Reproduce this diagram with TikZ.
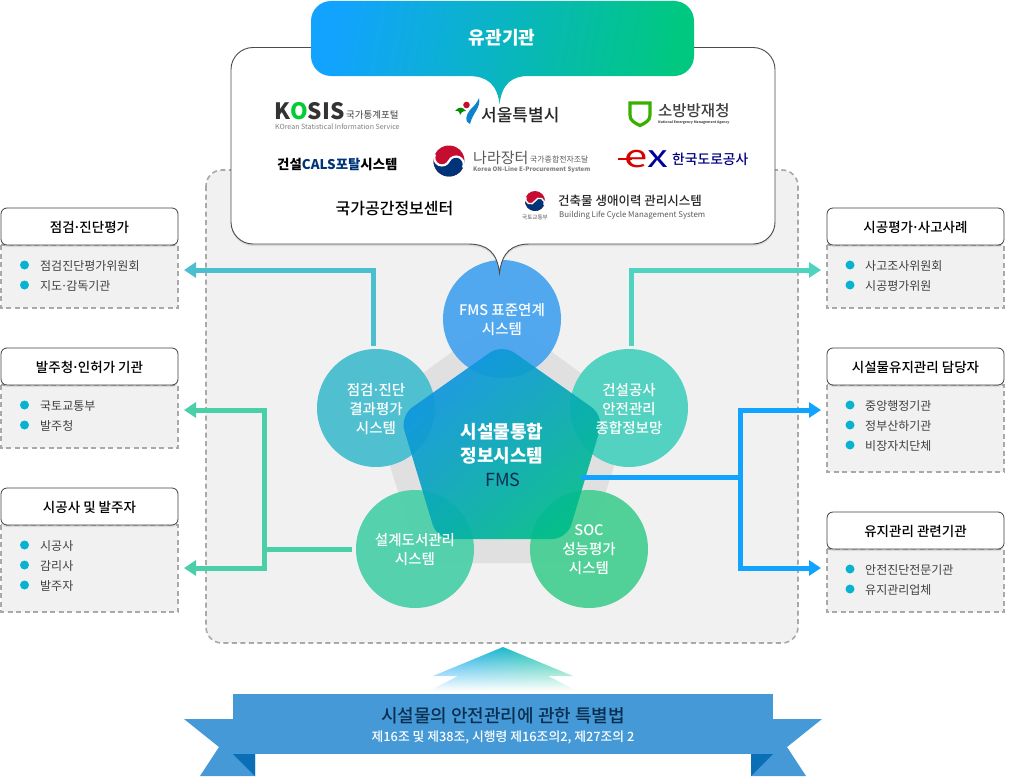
\documentclass[tikz,border=0pt]{standalone}
\usepackage{fontspec}
\setmainfont{Noto Sans CJK KR}
\newfontfamily\medfont{Noto Sans CJK KR Medium}
\usetikzlibrary{arrows.meta,shadows,fadings}
\definecolor{panelgray}{HTML}{F1F1F1}
\definecolor{dashgray}{HTML}{A9A9A9}
\definecolor{linkteal}{HTML}{4BBFD0}
\definecolor{linkmint}{HTML}{4FD2C0}
\definecolor{linkgreen}{HTML}{4BCFA8}
\definecolor{linkblue}{HTML}{12A3FF}
\definecolor{dotblue}{HTML}{07B3D0}
\definecolor{ribbon}{HTML}{4499D6}
\definecolor{ribbondark}{HTML}{0B6FB8}
\definecolor{navy}{HTML}{0B2E50}
\definecolor{kblue}{HTML}{003478}
\definecolor{kred}{HTML}{C60C30}
\newcommand{\fsz}[2]{\fontsize{#1}{#2}\selectfont}
\newcommand{\mdot}{\kern-.11em·\kern-.11em}
\newcommand{\taegeuk}[3]{%
	\begin{scope}[shift={(#1,#2)},x=#3pt,y=#3pt,rotate=-25]
		\fill[kred] (0,0) circle (1);
		\fill[kblue] (-1,0) arc[start angle=180,end angle=360,radius=1]
		arc[start angle=0,end angle=180,radius=.5]
		arc[start angle=0,end angle=-180,radius=.5] -- cycle;
		\draw[white,line width=.14*#3pt] (1,0) arc[start angle=0,end angle=180,radius=.5]
		arc[start angle=0,end angle=-180,radius=.5];
	\end{scope}}

\begin{document}
\begin{tikzpicture}
		[x=1pt,y=-1pt,
		bigpanel/.style={draw=dashgray,line width=1.6pt,dash pattern=on 5pt off 3.5pt,fill=panelgray,rounded corners=16pt},
		panel/.style={draw=dashgray,line width=1.6pt,dash pattern=on 5pt off 3.5pt,fill=panelgray},
		header/.style={draw=black!75,line width=.8pt,fill=white,rounded corners=6pt,minimum width=177pt,minimum height=37pt,inner sep=0pt,
			text height=12pt,text depth=1pt,drop shadow={shadow xshift=0pt,shadow yshift=-2pt,opacity=.18},font=\fsz{13.5}{16}\medfont,text=black},
		sys/.style={circle,minimum size=118pt,inner sep=0pt},
		systext/.style={inner sep=0pt,yshift=-1pt,align=center,text=white,font=\fsz{14.5}{19}\medfont},
		bullet/.style={circle,fill=dotblue,minimum size=9pt,inner sep=0pt},
		item/.style={anchor=west,inner sep=0pt,yshift=-1pt,font=\fsz{12}{14},text=black!75},
		link/.style={line width=5pt},
		linktip/.style={line width=5pt,-{Triangle[length=12pt,width=15pt]}},
		label/.style={inner sep=0pt,anchor=west}]
		
		\useasboundingbox (0,0) rectangle (1011,776);
		
		\path[bigpanel] (206,170) rectangle (798,643);
		
		% back pentagon and circles
		\fill[black!12] (502,316) -- (632,410) -- (583,563) -- (421,563) -- (372,410) -- cycle;
		\node[sys,fill={rgb,255:red,77;green,166;blue,239},fill opacity=.97] (sysT) at (502,319) {};
		\node[sys,fill=linkteal,fill opacity=.97] (sysL) at (376,408) {};
		\node[sys,fill=linkmint,fill opacity=.97] (sysR) at (629,408) {};
		\node[sys,fill={rgb,255:red,80;green,209;blue,171},fill opacity=.97] (sysBL) at (415,549) {};
		\node[sys,fill={rgb,255:red,76;green,208;blue,150},fill opacity=.97] (sysBR) at (589,549) {};
		
		% centre pentagon
		\shade[opacity=.92,rounded corners=15pt,left color=linkblue!90!black,right color={rgb,255:red,0;green,188;blue,140},shading angle=40]
		(502,344) -- (604,416) -- (567,539) -- (437,539) -- (400,416) -- cycle;
		
		\node[systext] (txtT) at (502,319) {FMS 표준연계\\시스템};
		\node[systext] (txtL) at (376,408) {점검\mdot 진단\\결과평가\\시스템};
		\node[systext] (txtR) at (629,408) {건설공사\\안전관리\\종합정보망};
		\node[systext] (txtBL) at (415,549) {설계도서관리\\시스템};
		\node[systext] (txtBR) at (589,549) {SOC\\성능평가\\시스템};
		\node[inner sep=0pt,align=center,text=white,font=\fsz{18}{24}\bfseries] (fms) at (502,443.5) {시설물통합\\정보시스템};
		\node[inner sep=0pt,text=navy,font=\fsz{18}{24}] (fmsname) at (503,479.5) {FMS};
		
		% side boxes, left
		\path[panel] (1,245) rectangle (178,308);
		\node[header] (boxA) at (89.5,226.5) {점검\mdot 진단평가};
		\node[bullet] (dotA1) at (24.5,265) {};
		\node[item] (itemA1) at (40,265) {점검진단평가위원회};
		\node[bullet] (dotA2) at (24.5,285) {};
		\node[item] (itemA2) at (40,285) {지도\mdot 감독기관};
		
		\path[panel] (1,385) rectangle (178,448);
		\node[header] (boxB) at (89.5,366.5) {발주청\mdot 인허가 기관};
		\node[bullet] (dotB1) at (24.5,405) {};
		\node[item] (itemB1) at (40,405) {국토교통부};
		\node[bullet] (dotB2) at (24.5,425) {};
		\node[item] (itemB2) at (40,425) {발주청};
		
		\path[panel] (1,525) rectangle (178,612);
		\node[header] (boxC) at (89.5,506.5) {시공사 및 발주자};
		\node[bullet] (dotC1) at (24.5,545) {};
		\node[item] (itemC1) at (40,545) {시공사};
		\node[bullet] (dotC2) at (24.5,565) {};
		\node[item] (itemC2) at (40,565) {감리사};
		\node[bullet] (dotC3) at (24.5,585) {};
		\node[item] (itemC3) at (40,585) {발주자};
		
		% side boxes, right
		\path[panel] (827,245) rectangle (1004,308);
		\node[header] (boxD) at (915.5,226.5) {시공평가\mdot 사고사례};
		\node[bullet] (dotD1) at (850,265) {};
		\node[item] (itemD1) at (865,265) {사고조사위원회};
		\node[bullet] (dotD2) at (850,285) {};
		\node[item] (itemD2) at (865,285) {시공평가위원};
		
		\path[panel] (827,385) rectangle (1004,472);
		\node[header] (boxE) at (915.5,366.5) {시설물유지관리 담당자};
		\node[bullet] (dotE1) at (850,405) {};
		\node[item] (itemE1) at (865,405) {중앙행정기관};
		\node[bullet] (dotE2) at (850,425) {};
		\node[item] (itemE2) at (865,425) {정부산하기관};
		\node[bullet] (dotE3) at (850,445) {};
		\node[item] (itemE3) at (865,445) {비장자치단체};
		
		\path[panel] (827,549) rectangle (1004,612);
		\node[header] (boxF) at (915.5,530.5) {유지관리 관련기관};
		\node[bullet] (dotF1) at (850,569) {};
		\node[item] (itemF1) at (865,569) {안전진단전문기관};
		\node[bullet] (dotF2) at (850,589) {};
		\node[item] (itemF2) at (865,589) {유지관리업체};
		
		% connectors
		\coordinate (tipA) at (184,270);
		\coordinate (tipB) at (184,410);
		\coordinate (tipC) at (184,568);
		\coordinate (tipD) at (821,270);
		\coordinate (tipE) at (821,410);
		\coordinate (tipF) at (821,568);
		\coordinate (splitL) at (264.5,549);
		\coordinate (splitR) at (740.5,477);
		\coordinate (fmsE) at (581,477);
		
		\draw[linktip,linkteal] ([shift={(-2.5,-3)}]sysL.north) |- (tipA);
		\draw[linktip,linkmint] ([shift={(2.5,-3)}]sysR.north) |- (tipD);
		\draw[link,linkgreen] ([xshift=-4pt]sysBL.west) -- (splitL);
		\draw[linktip,linkgreen] (splitL) |- (tipB);
		\draw[linktip,linkgreen] (splitL) |- (tipC);
		\draw[link,linkblue] (fmsE) -- (splitR);
		\draw[linktip,linkblue] (splitR) |- (tipE);
		\draw[linktip,linkblue] (splitR) |- (tipF);
		
		% callout with the logos
		\path[draw=black!70,line width=.9pt,fill=white,drop shadow={shadow xshift=0pt,shadow yshift=-2pt,opacity=.2}]
		(253,47.5) -- (753,47.5) arc[start angle=-90,end angle=0,radius=22] -- (775,222) arc[start angle=0,end angle=90,radius=22]
		-- (530,244) .. controls (512,244) and (502,252) .. (499.5,273) .. controls (497,252) and (487,244) .. (468,244)
		-- (253,244) arc[start angle=90,end angle=180,radius=22] -- (231,69.5) arc[start angle=180,end angle=270,radius=22] -- cycle;
		
		\shade[left color=linkblue,right color={rgb,255:red,0;green,200;blue,128},shading angle=80]
		(331,1) -- (674,1) arc[start angle=-90,end angle=0,radius=20] -- (694,56) arc[start angle=0,end angle=90,radius=20]
		-- (528,76) .. controls (512,76) and (502,84) .. (499.5,104) .. controls (497,84) and (487,76) .. (468,76)
		-- (331,76) arc[start angle=90,end angle=180,radius=20] -- (311,21) arc[start angle=180,end angle=270,radius=20] -- cycle;
		\node[inner sep=0pt,text=white,font=\fsz{18}{20}\bfseries] (title) at (502,38) {유관기관};
		
		% KOSIS
		\node[label,text=black!80,font=\fsz{22.5}{24}\bfseries] (kosis) at (274,111) {K{\color{green!60!teal}O}SIS};
		\node[label,text=black!75,font=\fsz{9.5}{10}] (kosiskr) at (346,115) {국가통계포털};
		\node[label,text=black!50,font=\fsz{7.05}{8}] (kosisen) at (275,127) {KOrean Statistical Information Service};
		
		% Seoul
		\fill[kred] (466.5,105) circle (3.3);
		\fill[green!55!black] (455,111) .. controls (459,106) and (463,107) .. (466,111) .. controls (462,111) and (461,113) .. (460,115) .. controls (460,112) and (458,110) .. (455,111) -- cycle;
		\fill[linkblue!80!black] (479,98) .. controls (481,108) and (473,112) .. (470,124) .. controls (464,122) and (466,115) .. (470,110) .. controls (474,106) and (477,103) .. (479,98) -- cycle;
		\node[label,font=\fsz{17}{18}\medfont,text=black!85] (seoul) at (481,115) {서울특별시};
		
		% fire agency
		\draw[line width=3.2pt,green!55!black!70!lime] (630,103) -- (650,103) -- (650,115) .. controls (650,121) and (645,123) .. (640,125.5) .. controls (635,123) and (630,121) .. (630,115) -- cycle;
		\node[label,font=\fsz{15.5}{16}\medfont,text=black!75] (fire) at (658,111) {소방방재청};
		\node[label,font=\fsz{3.4}{4}\bfseries,text=black!70] (fireen) at (658,122.5) {National Emergency Management Agency};
		
		% CALS
		\node[label,font=\fsz{13.4}{14}\bfseries,text=black] (cals) at (277,164) {건설{\color{kblue}CALS포탈}시스템};
		
		% Nara
		\taegeuk{449}{161}{15.5}
		\node[label,font=\fsz{15}{16},text=black!65] (nara) at (473,157.5) {나라장터};
		\node[label,font=\fsz{7.9}{8},text=black!65] (narakr) at (530,159.5) {국가종합전자조달};
		\node[label,font=\fsz{6.1}{8}\bfseries,text=black!50] (naraen) at (473,169.5) {Korea ON-Line E-Procurement System};
		
		% ex
		\fill[red!85!black] (618,157.5) rectangle (632,160);
		\node[label,font=\fsz{31}{31},text=red!85!black] (exlogo) at (624,159) {\scalebox{1.35}[1]{e{\color{blue!60!black}x}}};
		\node[label,font=\fsz{13.8}{14}\medfont,text=blue!50!black] (expressway) at (672,159) {한국도로공사};
		
		\node[inner sep=0pt,font=\fsz{16}{16}\medfont,text=black] (ngii) at (394.5,208.5) {국가공간정보센터};
		
		% building life cycle
		\taegeuk{535}{201}{10}
		\node[inner sep=0pt,font=\fsz{5.6}{6},text=black!65] (molit) at (535,217) {국토교통부};
		\node[label,font=\fsz{12.5}{13}\medfont,text=black!85] (blcm) at (558,201) {건축물 생애이력 관리시스템};
		\node[label,font=\fsz{7.9}{9},text=black!65] (blcmen) at (559,215) {Building Life Cycle Management System};
		
		% arrow up and ribbon
		\shade[left color=linkblue,right color={rgb,255:red,40;green,205;blue,150},path fading=south]
		(503,647) -- (573,676) -- (548,676) -- (577,691) -- (429,691) -- (458,676) -- (433,676) -- cycle;
		
		\fill[ribbon] (233,719) -- (184,719) -- (219,747) -- (200,776) -- (255,776) -- (255,754) -- (233,754) -- cycle;
		\fill[ribbon] (773,719) -- (822,719) -- (787,747) -- (806,776) -- (751,776) -- (751,754) -- (773,754) -- cycle;
		\fill[ribbondark] (233,754) -- (255,754) -- (255,776) -- cycle;
		\fill[ribbondark] (773,754) -- (751,754) -- (751,776) -- cycle;
		\fill[ribbon] (233,694) rectangle (773,754);
		\node[inner sep=0pt,text=navy,font=\fsz{18}{18}\medfont] (law) at (503,715.5) {시설물의 안전관리에 관한 특별법};
		\node[inner sep=0pt,text=white,font=\fsz{12.8}{14}\medfont] (lawsub) at (503,737.5) {제16조 및 제38조, 시행령 제16조의2, 제27조의 2};
		
		\end{tikzpicture}
\end{document}
